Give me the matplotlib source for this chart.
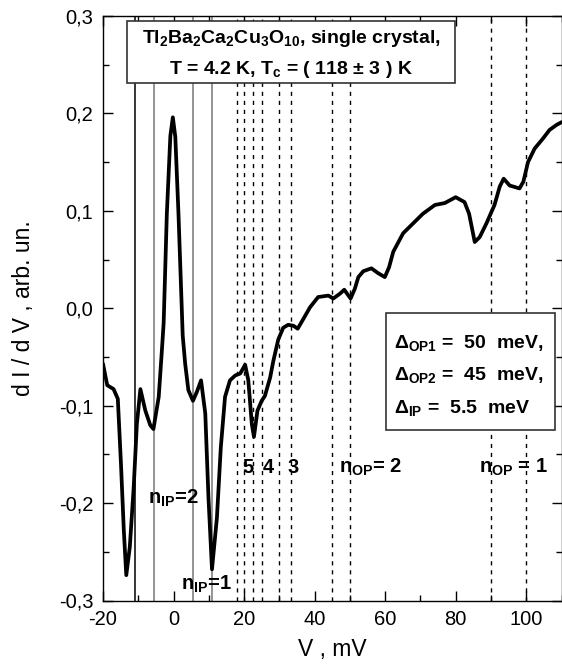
import matplotlib
matplotlib.use("Agg")
import matplotlib.pyplot as plt
from matplotlib.patches import Rectangle
from matplotlib.ticker import MultipleLocator, FuncFormatter

plt.rcParams["font.family"] = ["Liberation Sans", "DejaVu Sans"]
plt.rcParams["mathtext.fontset"] = "custom"
plt.rcParams["mathtext.rm"] = "Liberation Sans:bold"
plt.rcParams["mathtext.it"] = "Liberation Sans:bold"
plt.rcParams["mathtext.bf"] = "Liberation Sans:bold"
plt.rcParams["mathtext.sf"] = "Liberation Sans:bold"

# ------------------------------------------------------------- data ----------
V_mV = [-20, -18.8, -17, -15.8, -14.9, -14.1, -13.4, -12.4, -11.3, -10.4,
        -9.4, -8.0, -6.6, -5.7, -4.2, -3.3, -2.8, -1.9, -0.9, -0.2,
        0.5, 1.4, 2.6, 3.3, 4.2, 5.5, 6.6, 7.8, 9.0, 9.9,
        10.9, 12.3, 13.4, 14.6, 16.0, 17.5, 18.9, 20.3, 21.2, 22.2,
        22.8, 23.8, 25.0, 25.9, 27.4, 28.3, 29.7, 31.1, 32.5, 34.0,
        35.2, 36.8, 38.7, 41.0, 43.9, 45.3, 47.2, 48.4, 50.2, 51.4,
        52.4, 53.8, 56.1, 58.0, 59.9, 61.1, 62.3, 65.1, 67.9, 70.7,
        74.1, 76.9, 80.0, 82.5, 83.8, 85.4, 86.8, 88.7, 91.0, 92.5,
        93.6, 95.3, 98.1, 99.2, 100.5, 102.4, 104.7, 106.6, 108.5, 110]
dIdV = [-0.057, -0.079, -0.083, -0.093, -0.160, -0.228, -0.274, -0.245, -0.184, -0.119,
        -0.083, -0.105, -0.120, -0.124, -0.091, -0.043, -0.015, 0.097, 0.177, 0.196,
        0.176, 0.097, -0.028, -0.057, -0.084, -0.095, -0.086, -0.074, -0.108, -0.194,
        -0.268, -0.215, -0.143, -0.091, -0.074, -0.069, -0.067, -0.058, -0.074, -0.119,
        -0.132, -0.105, -0.095, -0.090, -0.071, -0.054, -0.032, -0.020, -0.017, -0.018,
        -0.021, -0.011, 0.001, 0.0115, 0.013, 0.010, 0.015, 0.019, 0.010, 0.020,
        0.032, 0.038, 0.041, 0.036, 0.032, 0.042, 0.058, 0.077, 0.087, 0.097,
        0.106, 0.108, 0.114, 0.109, 0.097, 0.068, 0.073, 0.087, 0.106, 0.125,
        0.133, 0.126, 0.123, 0.130, 0.150, 0.164, 0.174, 0.183, 0.188, 0.191]

# gap values (meV) and harmonic numbers of the subharmonic gap structure
D_OP1 = 50.0
D_OP2 = 45.0
D_IP = 5.5
n_OP = [1, 2, 3, 4, 5]
n_IP = [1, 2]

# ------------------------------------------------------------- figure --------
fig = plt.figure(figsize=(5.62, 6.71), dpi=100)
ax = fig.add_axes([103 / 562, 70.5 / 671, 458.5 / 562, 584.5 / 671])

# IP structure: solid verticals at +-2*D_IP/n
for n in n_IP:
    v = 2 * D_IP / n
    ax.axvline(v, color="#777777", lw=1.1, zorder=1)
    ax.axvline(-v, color="#000000" if n == 1 else "#777777", lw=1.1, zorder=1)

# OP structure: dashed verticals at 2*D/n
for D in (D_OP1, D_OP2):
    for n in n_OP:
        ax.axvline(2 * D / n, color="black", lw=1.0, ls=(0, (3.0, 3.5)), zorder=1)

ax.plot(V_mV, dIdV, color="black", lw=2.7, solid_joinstyle="round",
        solid_capstyle="round", zorder=3)

ax.set_xlim(-20, 110)
ax.set_ylim(-0.3, 0.3)
ax.xaxis.set_major_locator(MultipleLocator(20))
ax.xaxis.set_minor_locator(MultipleLocator(10))
ax.yaxis.set_major_locator(MultipleLocator(0.1))
ax.yaxis.set_minor_locator(MultipleLocator(0.05))
ax.yaxis.set_major_formatter(FuncFormatter(
    lambda v, p: ("%.1f" % v).replace(".", ",").replace("-0,0", "0,0")))
ax.xaxis.set_major_formatter(FuncFormatter(lambda v, p: "%d" % v))
ax.tick_params(which="both", direction="in", top=True, right=True,
               labelsize=14.5)
ax.tick_params(axis="y", pad=7)
ax.tick_params(axis="x", pad=7)
ax.tick_params(which="major", length=7, width=1.0)
ax.tick_params(which="minor", length=4, width=1.0)
for sp in ax.spines.values():
    sp.set_linewidth(1.0)

ax.set_xlabel("V , mV", fontsize=16.5, labelpad=6)
ax.set_ylabel("d I / d V , arb. un.", fontsize=16.5, labelpad=17)

# ------------------------------------------------------------- title box -----
ax.add_patch(Rectangle((0.052, 0.886), 0.715, 0.106, transform=ax.transAxes,
                       facecolor="white", edgecolor="#333333", lw=1.2, zorder=5))
ax.text(0.41, 0.962, r"Tl$_2$Ba$_2$Ca$_2$Cu$_3$O$_{10}$, single crystal,",
        transform=ax.transAxes, ha="center", va="center", fontsize=14,
        fontweight="bold", zorder=6)
ax.text(0.41, 0.909, r"T = 4.2 K, T$_c$ = ( 118 $\pm$ 3 ) K",
        transform=ax.transAxes, ha="center", va="center", fontsize=14,
        fontweight="bold", zorder=6)

# ------------------------------------------------------------- gap box -------
ax.add_patch(Rectangle((0.617, 0.292), 0.368, 0.2, transform=ax.transAxes,
                       facecolor="white", edgecolor="#333333", lw=1.2, zorder=5))
gap_lines = [r"$\Delta_{OP1}$ =  50  meV,", r"$\Delta_{OP2}$ =  45  meV,",
             r"$\Delta_{IP}$ =  5.5  meV"]
for i, s in enumerate(gap_lines):
    ax.text(0.634, 0.441 - i * 0.056, s, transform=ax.transAxes, ha="left",
            va="center", fontsize=14, fontweight="bold", zorder=6)

# ------------------------------------------------------------- labels --------
kw = dict(fontsize=14.5, fontweight="bold", ha="center", va="center", zorder=6)
ax.text(21.2, -0.163, "5", **kw)
ax.text(26.8, -0.163, "4", **kw)
ax.text(33.9, -0.163, "3", **kw)
ax.text(56.0, -0.163, r"n$_{OP}$= 2", **kw)
ax.text(96.5, -0.163, r"n$_{OP}$ = 1", **kw)
ax.text(-0.2, -0.195, r"n$_{IP}$=2", **kw)
ax.text(9.4, -0.283, r"n$_{IP}$=1", **kw)

fig.savefig("out.png", dpi=100)
